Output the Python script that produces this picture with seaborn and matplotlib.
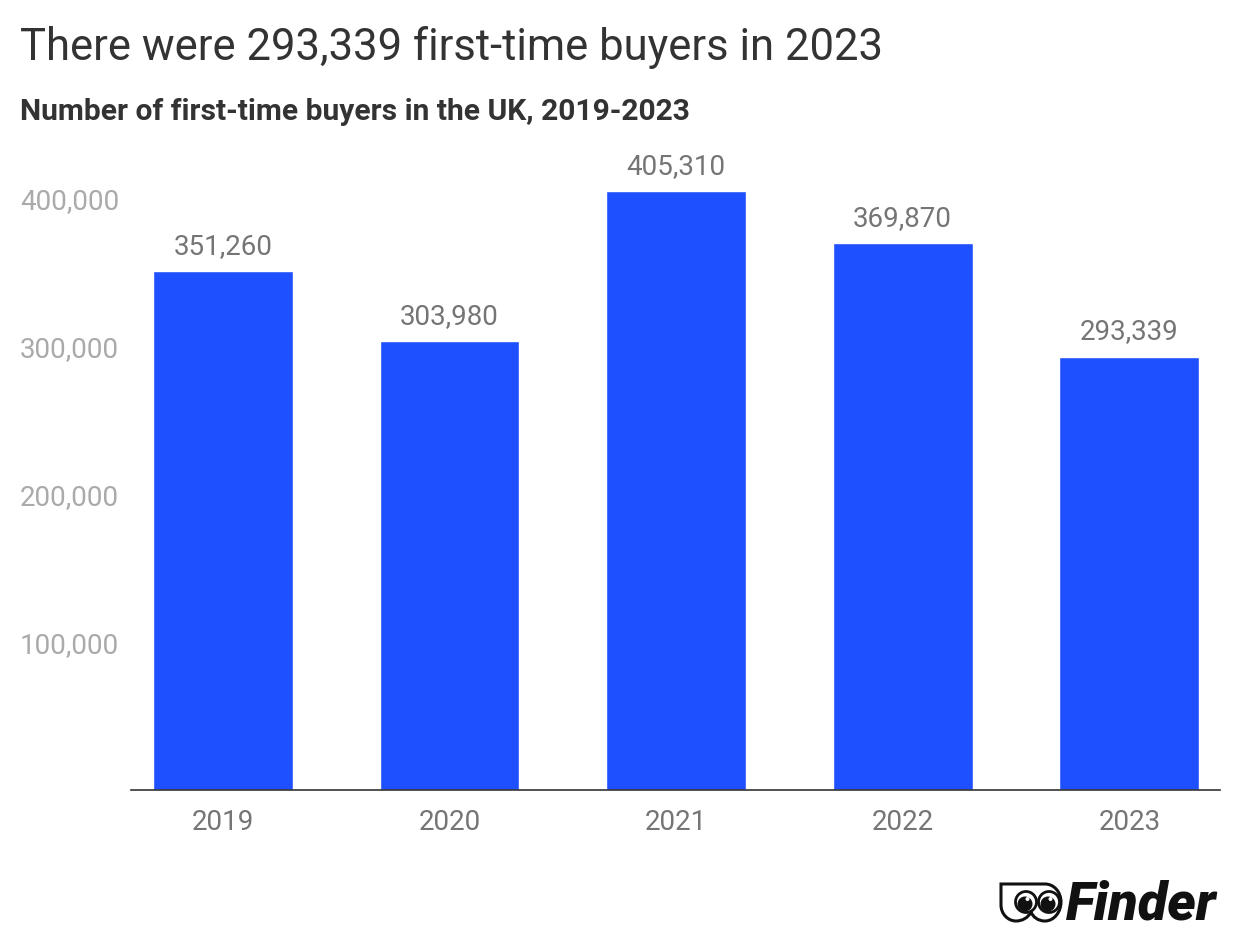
import matplotlib
matplotlib.use("Agg")
import matplotlib.pyplot as plt
import matplotlib.patches as mpatches
from matplotlib.path import Path
from matplotlib.transforms import Affine2D
import seaborn as sns
import pandas as pd

years = ["2019", "2020", "2021", "2022", "2023"]
buyers = [351260, 303980, 405310, 369870, 293339]
y_ticks = [100000, 200000, 300000, 400000]

W, H = 1240, 948

sns.set_theme(style="white")
plt.rcParams["font.family"] = ["Roboto", "DejaVu Sans"]

df = pd.DataFrame({"year": years, "buyers": buyers})

fig = plt.figure(figsize=(W / 100, H / 100), dpi=100)
ax = fig.add_axes([131 / W, 1 - 790 / H, (1220 - 131) / W, 620.6 / H])

sns.barplot(data=df, x="year", y="buyers", color="#1f50ff", saturation=1,
            width=0.617, ax=ax)

ax.set_xlim(-0.405, 4.4)
ax.set_ylim(0, 420000)
ax.set_xlabel("")
ax.set_ylabel("")

for i, v in enumerate(buyers):
    ax.annotate(f"{v:,}", (i, v), xytext=(0, 8), textcoords="offset points",
                ha="center", va="bottom", fontsize=20, color="#757575")

ax.set_yticks(y_ticks)
ax.set_yticklabels([f"{t:,}" for t in y_ticks], fontsize=20, color="#aaaaaa")
ax.tick_params(axis="y", length=0, pad=0)
for lab in ax.get_yticklabels():
    lab.set_horizontalalignment("left")
    lab.set_x(-(131 - 20) / (1220 - 131))
ax.tick_params(axis="x", length=0, pad=14, labelsize=20, labelcolor="#757575")

for s in ["top", "right", "left"]:
    ax.spines[s].set_visible(False)
ax.spines["bottom"].set_color("#333333")
ax.spines["bottom"].set_linewidth(1.2)

fig.text(20 / W, 1 - 60 / H, "There were 293,339 first-time buyers in 2023",
         fontsize=31.4, color="#333333", va="baseline", ha="left")
fig.text(20 / W, 1 - 120 / H, "Number of first-time buyers in the UK, 2019-2023",
         fontsize=21.6, fontweight="bold", color="#333333", va="baseline", ha="left")

# Finder logo, drawn in pixel coordinates (y downwards)
px = Affine2D().scale(1, -1).translate(0, H)
outline = Path(
    [(1001, 884), (1045, 884),
     (1054, 884), (1061, 892), (1061, 902),
     (1061, 912), (1054, 921), (1045, 921),
     (1038, 921), (1033, 917), (1031, 912),
     (1028, 918), (1022, 921), (1016, 921),
     (1008, 921), (1001, 914), (1001, 905),
     (1001, 884)],
    [Path.MOVETO, Path.LINETO,
     Path.CURVE4, Path.CURVE4, Path.CURVE4,
     Path.CURVE4, Path.CURVE4, Path.CURVE4,
     Path.CURVE4, Path.CURVE4, Path.CURVE4,
     Path.CURVE4, Path.CURVE4, Path.CURVE4,
     Path.CURVE4, Path.CURVE4, Path.CURVE4,
     Path.CLOSEPOLY])
fig.patches.append(mpatches.PathPatch(outline, transform=px, facecolor="white",
                                      edgecolor="#111111", linewidth=2.2))
for cx in (1026, 1049):
    fig.patches.append(mpatches.Circle((cx, 902), 10.5, transform=px,
                                       facecolor="white", edgecolor="#111111",
                                       linewidth=2))
    fig.patches.append(mpatches.Circle((cx - 1, 904), 7.5, transform=px,
                                       facecolor="#111111", edgecolor="none"))
    fig.patches.append(mpatches.Circle((cx + 1.5, 899), 2, transform=px,
                                       facecolor="white", edgecolor="none"))
fig.text(1066 / W, 1 - 920 / H, "Finder", fontsize=39, fontweight="black",
         fontstyle="italic", color="#111111", va="baseline", ha="left")

fig.savefig("out.png", dpi=100, facecolor="white")
